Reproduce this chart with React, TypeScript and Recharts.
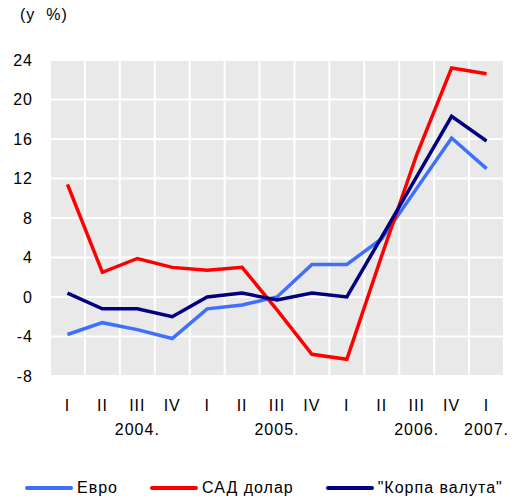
import {
  LineChart,
  Line,
  XAxis,
  YAxis,
  CartesianGrid,
} from 'recharts';

const QUARTERS = ['I', 'II', 'III', 'IV', 'I', 'II', 'III', 'IV', 'I', 'II', 'III', 'IV', 'I'];
// year caption drawn under a given quarter index
const YEAR_LABELS: Record<number, string> = { 2: '2004.', 6: '2005.', 10: '2006.', 12: '2007.' };

const EURO = [-3.8, -2.6, -3.3, -4.2, -1.2, -0.8, 0.0, 3.3, 3.3, 5.9, 11.0, 16.1, 13.0];
const USD = [11.4, 2.5, 3.9, 3.0, 2.7, 3.0, -1.3, -5.8, -6.3, 4.2, 14.4, 23.2, 22.6];
const BASKET = [0.4, -1.2, -1.2, -2.0, 0.0, 0.4, -0.3, 0.4, 0.0, 6.1, 12.2, 18.3, 15.8];

const Y_TICKS = [-8, -4, 0, 4, 8, 12, 16, 20, 24];

const SERIES = [
  { key: 'euro', name: 'Евро', color: '#3f6fff' },
  { key: 'usd', name: 'САД долар', color: '#ff0000' },
  { key: 'basket', name: '"Корпа валута"', color: '#000080' },
];

const FONT = '"Liberation Sans", Arial, sans-serif';

const data = QUARTERS.map((q, i) => ({
  x: i + 0.5,
  quarter: q,
  euro: EURO[i],
  usd: USD[i],
  basket: BASKET[i],
}));

const labelTicks = QUARTERS.map((_, i) => i + 0.5);
const gridTicks = Array.from({ length: QUARTERS.length + 1 }, (_, i) => i);

function QuarterTick({ x, y, payload }: { x?: number; y?: number; payload?: { value: number } }) {
  const idx = Math.floor(payload?.value ?? 0);
  const year = YEAR_LABELS[idx];
  return (
    <g>
      <text x={x} y={y} dy="0.71em" textAnchor="middle" fill="#000" fontSize={16} fontFamily={FONT} letterSpacing={1}>
        {QUARTERS[idx]}
      </text>
      {year && (
        <text x={x} y={(y ?? 0) + 24} dy="0.71em" textAnchor="middle" fill="#000" fontSize={16} fontFamily={FONT} letterSpacing={1}>
          {year}
        </text>
      )}
    </g>
  );
}

function ChartLegend() {
  return (
    <div
      style={{
        position: 'absolute',
        left: 25,
        top: 478,
        display: 'flex',
        alignItems: 'center',
        whiteSpace: 'nowrap',
        fontFamily: FONT,
        fontSize: 16,
        letterSpacing: 1,
        lineHeight: '20px',
      }}
    >
      {SERIES.map((s) => (
        <div key={s.key} style={{ display: 'flex', alignItems: 'center', marginRight: 32 }}>
          <span style={{ display: 'inline-block', width: 48, height: 4, background: s.color, borderRadius: 2, marginRight: 4 }} />
          <span>{s.name}</span>
        </div>
      ))}
    </div>
  );
}

export default function App() {
  return (
    <div style={{ position: 'absolute', left: 0, top: 0, width: 516, height: 499, background: '#fff' }}>
      <div style={{ position: 'absolute', left: 20, top: 6, fontFamily: FONT, fontSize: 16, letterSpacing: 1, whiteSpace: 'pre' }}>
        (у  %)
      </div>
      <LineChart width={516} height={499} data={data} margin={{ top: 60, right: 12, bottom: 0, left: 0 }}>
        <CartesianGrid xAxisId="grid" fill="#e9e9e9" stroke="#ffffff" strokeWidth={2} />
        <XAxis xAxisId="grid" dataKey="x" type="number" domain={[0, QUARTERS.length]} ticks={gridTicks} hide />
        <XAxis
          dataKey="x"
          type="number"
          domain={[0, QUARTERS.length]}
          ticks={labelTicks}
          interval={0}
          axisLine={false}
          tickLine={false}
          tickSize={0}
          tickMargin={24}
          tick={<QuarterTick />}
          height={123}
        />
        <YAxis
          domain={[-8, 24]}
          ticks={Y_TICKS}
          interval={0}
          width={50}
          axisLine={false}
          tickLine={false}
          tickSize={0}
          tickMargin={17}
          tick={{ fill: '#000', fontSize: 16, fontFamily: FONT, letterSpacing: 1 }}
        />
        {SERIES.map((s) => (
          <Line
            key={s.key}
            dataKey={s.key}
            name={s.name}
            stroke={s.color}
            strokeWidth={3.5}
            dot={false}
            activeDot={false}
            isAnimationActive={false}
          />
        ))}
      </LineChart>
      <ChartLegend />
    </div>
  );
}
